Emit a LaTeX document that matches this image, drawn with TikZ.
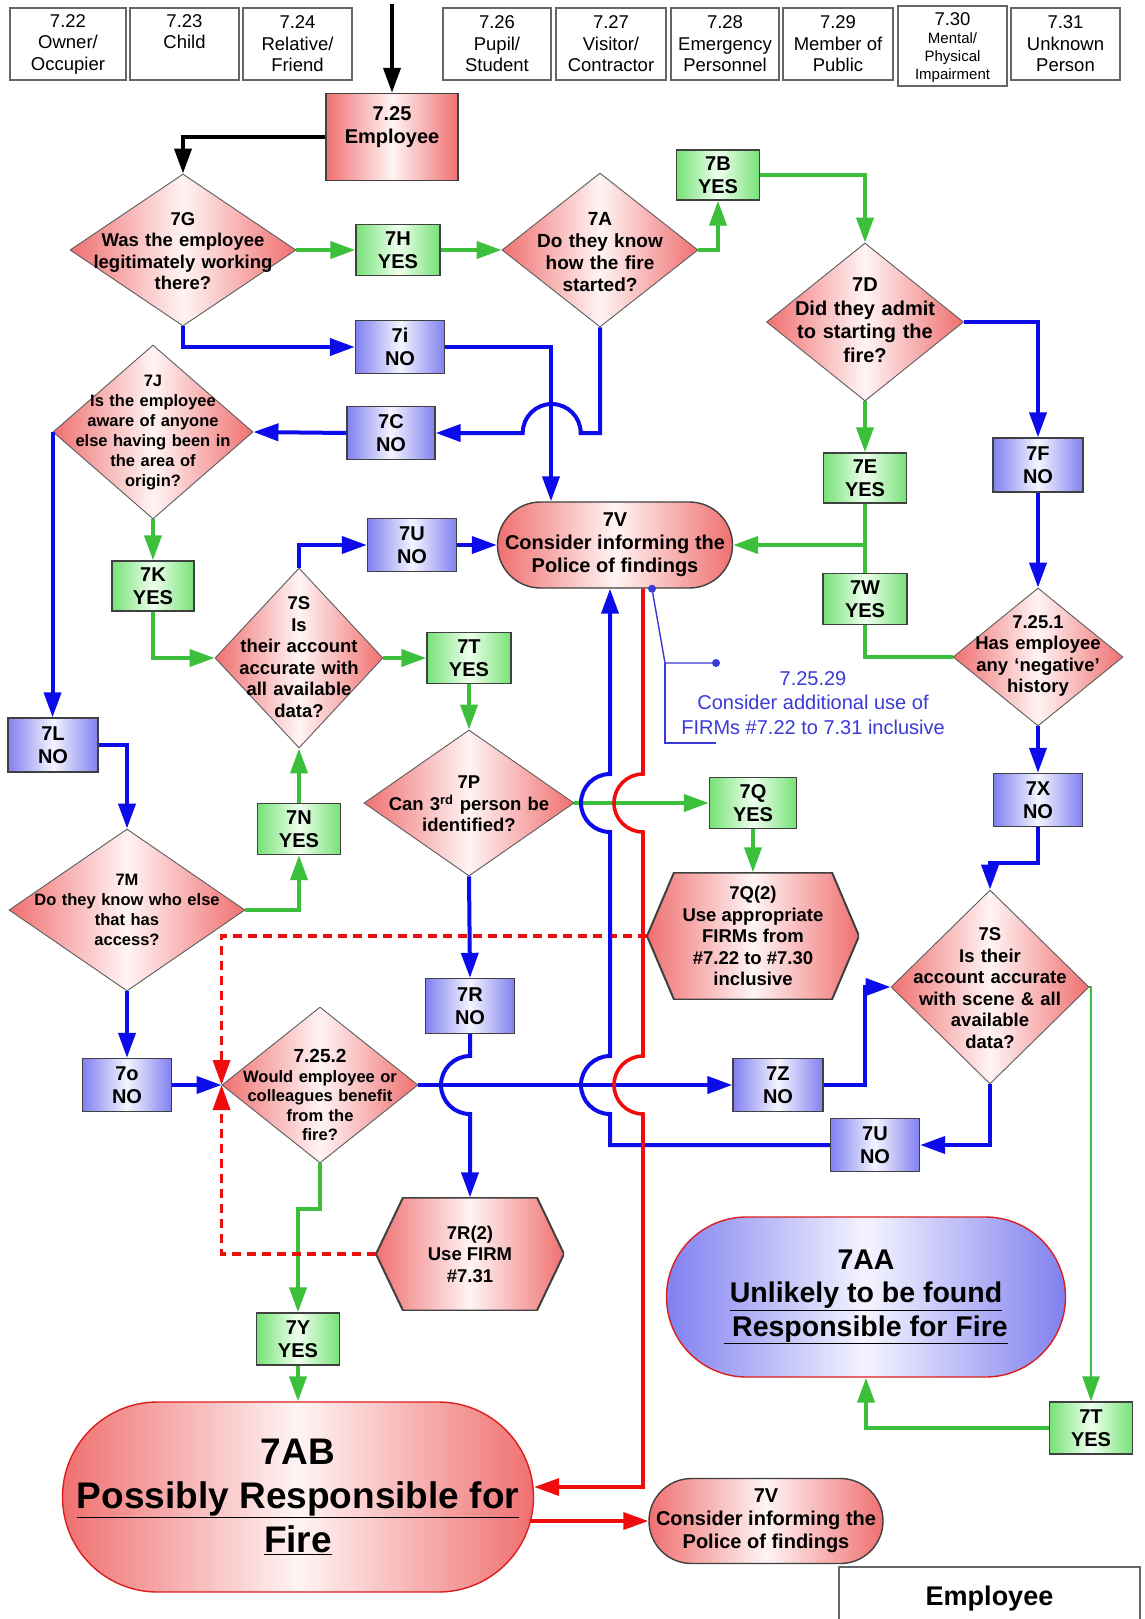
\documentclass[tikz,border=0pt]{standalone}
\usepackage{fontspec}
\setmainfont{Liberation Sans}
\usetikzlibrary{arrows.meta,shapes.geometric,calc}

\definecolor{redE}{RGB}{240,112,112}
\definecolor{redC}{RGB}{255,244,244}
\definecolor{grnE}{RGB}{118,226,118}
\definecolor{grnC}{RGB}{238,255,238}
\definecolor{bluE}{RGB}{128,128,240}
\definecolor{bluC}{RGB}{244,244,255}
\definecolor{lnG}{RGB}{60,192,60}
\definecolor{lnB}{RGB}{12,12,235}
\definecolor{lnR}{RGB}{238,12,12}
\definecolor{annB}{RGB}{58,58,215}
\definecolor{edgeD}{RGB}{64,64,64}
\definecolor{rimR}{RGB}{220,30,30}

\newcommand{\myfs}[2]{\fontsize{#1}{#2}\selectfont}

\begin{document}
\begin{tikzpicture}[x=1pt,y=-1pt,
  redfill/.style={left color=redE,right color=redE,middle color=redC},
  grnfill/.style={left color=grnE,right color=grnE,middle color=grnC},
  blufill/.style={left color=bluE,right color=bluE,middle color=bluC},
  topbox/.style={draw=edgeD!80,line width=1.3pt,fill=white,minimum height=72pt,
     inner sep=0pt,align=center,font=\myfs{18.5}{21.5}},
  lbl/.style={draw=edgeD,line width=1.4pt,inner sep=0pt,align=center,
     font=\bfseries\myfs{20}{23}},
  yesbox/.style={lbl,grnfill,minimum width=84pt,minimum height=51pt},
  nobox/.style={lbl,blufill,minimum width=89pt,minimum height=53pt},
  diam/.style={diamond,draw=edgeD!85,line width=0.9pt,redfill,inner sep=0pt},
  dtxt/.style={inner sep=0pt,align=center,text width=240pt,
     font=\bfseries\myfs{18.5}{21.5}},
  pill/.style={rectangle,draw=edgeD,line width=1.4pt,inner sep=0pt,align=center},
  hexa/.style={rectangle,inner sep=0pt,align=center,
     font=\bfseries\myfs{18.5}{21.5},
     path picture={\shadedraw[redfill,draw=edgeD,line width=2pt]
       (path picture bounding box.west)
       -- ([xshift=27pt]path picture bounding box.north west)
       -- ([xshift=-27pt]path picture bounding box.north east)
       -- (path picture bounding box.east)
       -- ([xshift=-27pt]path picture bounding box.south east)
       -- ([xshift=27pt]path picture bounding box.south west) -- cycle;}},
  arr/.style={-{Triangle[length=25pt,width=17pt]}},
  blk/.style={draw=black,line width=4pt},
  gl/.style={draw=lnG,line width=4pt},
  gthin/.style={draw=lnG,line width=2.6pt},
  bl/.style={draw=lnB,line width=4pt},
  rl/.style={draw=lnR,line width=3.6pt},
  rdash/.style={draw=lnR,line width=3.6pt,dash pattern=on 9pt off 6pt},
  annl/.style={draw=annB,line width=1.4pt},
  anntxt/.style={inner sep=0pt,align=center,text=annB,font=\myfs{20}{24.5}},
]
\useasboundingbox (0,0) rectangle (1144,1619);
\fill[white] (0,0) rectangle (1144,1619);

% ---------- row of person categories ----------
\node[topbox,minimum width=116pt] (t22) at (68,44) {7.22\\Owner/\\Occupier};
\node[topbox,minimum width=109pt] (t23) at (184.5,44) {7.23\\Child\\\vphantom{Op}};
\node[topbox,minimum width=109pt] (t24) at (297.5,44) {7.24\\Relative/\\Friend};
\node[topbox,minimum width=108pt] (t26) at (497,44) {7.26\\Pupil/\\Student};
\node[topbox,minimum width=110pt] (t27) at (611,44) {7.27\\Visitor/\\Contractor};
\node[topbox,minimum width=108pt] (t28) at (725,44) {7.28\\Emergency\\Personnel};
\node[topbox,minimum width=110pt] (t29) at (838,44) {7.29\\Member of\\Public};
\node[topbox,minimum width=109pt,minimum height=80pt] (t30) at (952.5,46) {};
\node[inner sep=0pt,align=center,text width=105pt,font=\myfs{15}{18}] (t30t) at (952.5,48)
  {{\myfs{18.5}{20}7.30}\\Mental/\\Physical\\Impairment};
\node[topbox,minimum width=109pt] (t31) at (1065.5,44) {7.31\\Unknown\\Person};

% ---------- flow nodes ----------
\node[lbl,redfill,minimum width=132pt,minimum height=87pt] (E25) at (392,137) {7.25\\Employee\\~};

\node[diam,minimum width=226pt,minimum height=152pt] (G) at (183,250) {};
\node[dtxt] (Gt) at (183,251) {7G\\Was the employee\\legitimately working\\there?};
\node[yesbox] (H) at (398,250) {7H\\YES};
\node[diam,minimum width=196pt,minimum height=154pt] (A) at (600,250) {};
\node[dtxt,font=\bfseries\myfs{19}{22}] (At) at (600,252) {7A\\Do they know\\how the fire\\started?};
\node[yesbox,minimum width=83pt,minimum height=50pt] (B) at (718,175) {7B\\YES};
\node[diam,minimum width=197pt,minimum height=158pt] (D) at (865,322) {};
\node[dtxt,font=\bfseries\myfs{20}{23.5}] (Dt) at (865,320) {7D\\Did they admit\\to starting the\\fire?};

\node[nobox] (I) at (400,347) {7i\\NO};
\node[nobox,minimum width=88pt] (C) at (391,433) {7C\\NO};
\node[diam,minimum width=200pt,minimum height=174pt] (J) at (153,432) {};
\node[dtxt,font=\bfseries\myfs{16.5}{20}] (Jt) at (153,433)
  {7J\\Is the employee\\aware of anyone\\else having been in\\the area of\\origin?};
\node[yesbox,minimum width=82pt,minimum height=50pt] (K) at (153,586) {7K\\YES};

\node[nobox] (U1) at (412,545) {7U\\NO};
\node[diam,minimum width=168pt,minimum height=180pt] (S1) at (299,658) {};
\node[dtxt] (S1t) at (299,657) {7S\\Is\\their account\\accurate with\\all available\\data?};
\node[yesbox] (T1) at (469,658) {7T\\YES};

\node[pill,redfill,rounded corners=43pt,minimum width=235pt,minimum height=86pt,
  font=\bfseries\myfs{20}{23}] (V) at (615,545) {7V\\Consider informing the\\Police of findings};

\node[yesbox,minimum width=83pt,minimum height=50pt] (E) at (865,478) {7E\\YES};
\node[nobox,minimum width=90pt,minimum height=54pt] (F) at (1038,465) {7F\\NO};
\node[yesbox] (W) at (865,599) {7W\\YES};
\node[diam,minimum width=170pt,minimum height=138pt] (N1) at (1038,657) {};
\node[dtxt] (N1t) at (1038,656) {7.25.1\\Has employee\\any `negative'\\history};

\node[nobox,minimum width=90pt,minimum height=54pt] (L) at (53,745) {7L\\NO};
\node[diam,minimum width=236pt,minimum height=162pt] (M) at (127,910) {};
\node[dtxt,font=\bfseries\myfs{16.5}{20}] (Mt) at (127,910) {7M\\Do they know who else\\that has\\access?};
\node[yesbox,minimum width=83pt,minimum height=51pt] (Nn) at (299,829) {7N\\YES};

\node[diam,minimum width=210pt,minimum height=146pt] (P) at (469,803) {};
\node[dtxt] (Pt) at (469,804) {7P\\Can 3\textsuperscript{rd} person be\\identified?};
\node[yesbox,minimum width=87pt] (Q) at (753,803) {7Q\\YES};
\node[hexa,fill=white,minimum width=212pt,minimum height=127pt] (Q2) at (753,936)
  {7Q(2)\\Use appropriate\\FIRMs from\\\#7.22 to \#7.30\\inclusive};

\node[nobox] (X) at (1038,800) {7X\\NO};
\node[diam,minimum width=198pt,minimum height=194pt] (S2) at (990,987) {};
\node[dtxt] (S2t) at (990,988) {7S\\Is their\\account accurate\\with scene \& all\\available\\data?};

\node[nobox,minimum height=55pt] (R) at (470,1006) {7R\\NO};
\node[nobox] (O) at (127,1085) {7o\\NO};
\node[diam,minimum width=196pt,minimum height=156pt] (B2) at (320,1085) {};
\node[dtxt,font=\bfseries\myfs{16.5}{19.5}] (B2t) at (320,1095)
  {{\myfs{19}{21}7.25.2}\\Would employee or\\colleagues benefit\\from the\\fire?};
\node[nobox,minimum width=90pt] (Z) at (778,1085) {7Z\\NO};
\node[nobox] (U2) at (875,1145) {7U\\NO};
\node[hexa,fill=white,minimum width=188pt,minimum height=113pt] (R2) at (470,1254)
  {7R(2)\\Use FIRM\\\#7.31};

\node[yesbox,minimum width=83pt,minimum height=52pt] (Y) at (298,1339) {7Y\\YES};
\node[pill,redfill,draw=rimR,rounded corners=95pt,minimum width=471pt,minimum height=190pt,
  font=\bfseries\myfs{37}{44}] (AB) at (298,1497)
  {7AB\\\underline{Possibly Responsible for}\\\underline{Fire}};
\node[pill,blufill,draw=rimR,rounded corners=80pt,minimum width=399pt,minimum height=160pt,
  font=\bfseries\myfs{28.5}{33.5}] (AA) at (866,1297)
  {7AA\\\underline{Unlikely to be found}\\\underline{~Responsible for Fire}};
\node[yesbox,minimum width=83pt,minimum height=52pt] (T2) at (1091,1428) {7T\\YES};
\node[pill,redfill,rounded corners=42.5pt,minimum width=234pt,minimum height=85pt,
  font=\bfseries\myfs{20}{23}] (V2) at (766,1521) {7V\\Consider informing the\\Police of findings};
\node[draw=edgeD!80,line width=1.3pt,fill=white,minimum width=301pt,minimum height=62pt,
  inner sep=0pt,font=\bfseries\myfs{27}{30}] (Emp) at (989.5,1598) {Employee};

% ---------- entry arrows (black) ----------
\coordinate (src) at (392,4);
\draw[blk,arr] (src) -- (E25.north);
\draw[blk,arr] (E25.west) -| (G.north);

% ---------- YES paths (green) ----------
\draw[gl,arr] (G.east) -- (H.west);
\draw[gl,arr] (H.east) -- (A.west);
\draw[gl,arr] (A.east) -| (B.south);
\draw[gl,arr] (B.east) -| (D.north);
\draw[gl,arr] (D.south) -- (E.north);
\draw[gl,arr] (E.south) |- (V.east);
\draw[gl] (W.north) -- (W.north |- V.east);
\draw[gl] (N1.west) -| (W.south);
\draw[gl,arr] (J.south) -- (K.north);
\draw[gl,arr] (K.south) |- (S1.west);
\draw[gl,arr] (S1.east) -- (T1.west);
\draw[gl,arr] (T1.south) -- (P.north);
\draw[gl,arr] (M.east) -| (Nn.south);
\draw[gl,arr] (Nn.north) -- (S1.south);
\draw[gl,arr] (P.east) -- (Q.west);
\draw[gl,arr] (Q.south) -- (Q2.north);
\draw[gl,arr] (B2.south) -- ++(0,46) -| (Y.north);
\draw[gl,arr] (Y.south) -- (AB.north);
\draw[gthin,arr] (S2.east) -| (T2.north);
\draw[gl,arr] (T2.west) -| (AA.south);

% ---------- dashed referrals (red) ----------
\draw[rdash,arr] (Q2.west) -| (B2.west);
\draw[rdash,arr] (R2.west) -| (B2.west);

% ---------- NO paths (blue) ----------
\draw[bl,arr] (G.south) |- (I.west);
\draw[bl,arr] (I.east) -| ([xshift=-64pt]V.north);
\draw[bl,arr] (A.south) |- ([xshift=145pt]C.east)
  arc[start angle=0,end angle=180,radius=29pt] -- (C.east);
\draw[bl,arr] (C.west) -- (J.east);
\draw[bl,arr] (J.west) -- (J.west |- L.north);
\draw[bl,arr] (L.east) -| (M.north);
\draw[bl,arr] (M.south) -- (O.north);
\draw[bl,arr] (O.east) -- (B2.west);
\draw[bl,arr] (S1.north) |- (U1.west);
\draw[bl,arr] (U1.east) -- (V.west);
\draw[bl,arr] (D.east) -| (F.north);
\draw[bl,arr] (F.south) -- (N1.north);
\draw[bl,arr] (N1.south) -- (X.north);
\draw[bl,arr] (X.south) -- ++(0,36) -| (S2.north);
\draw[bl,arr] (P.south) -- (R.north);
\draw[bl,arr] (R.south) -- ($(R.south |- B2.east)+(0,-29)$)
  arc[start angle=90,end angle=270,radius=29pt] -- (R2.north);
\draw[bl,arr] (B2.east) -- (Z.west);
\draw[bl,arr] (Z.east) -| ([xshift=-26pt]S2.west) -- (S2.west);
\draw[bl,arr] (S2.south) |- (U2.east);
\coordinate (bvx) at (610,1145);
\draw[bl,arr] (U2.west) -| ($(bvx |- B2.east)+(0,29)$)
  arc[start angle=270,end angle=90,radius=29pt] -- ($(bvx |- P.east)+(0,29)$)
  arc[start angle=270,end angle=90,radius=29pt] -- (bvx |- V.south);

% ---------- outcome paths (red) ----------
\coordinate (rvx) at (643,1487);
\draw[rl,arr] (rvx |- V.south) -- ($(rvx |- P.east)+(0,-29)$)
  arc[start angle=90,end angle=270,radius=29pt] -- ($(rvx |- B2.east)+(0,-29)$)
  arc[start angle=90,end angle=270,radius=29pt] -- (rvx) -- ([yshift=10pt]AB.east);
\draw[rl,arr] ([xshift=-4pt,yshift=-24pt]AB.east) -- (V2.west);

% ---------- note on further FIRMs ----------
\coordinate (a1) at ([xshift=37pt]V.south);
\coordinate (a2) at (665,663);
\coordinate (a3) at (716,663);
\coordinate (a4) at (665,743);
\coordinate (a5) at (716,743);
\draw[annl] (a1) -- (a2) -- (a3);
\draw[annl] (a2) -- (a4) -- (a5);
\fill[annB] (a1) circle[radius=4pt] (a3) circle[radius=4pt];
\node[anntxt] (ann) at (813,703) {7.25.29\\Consider additional use of\\FIRMs \#7.22 to 7.31 inclusive};
\end{tikzpicture}
\end{document}
